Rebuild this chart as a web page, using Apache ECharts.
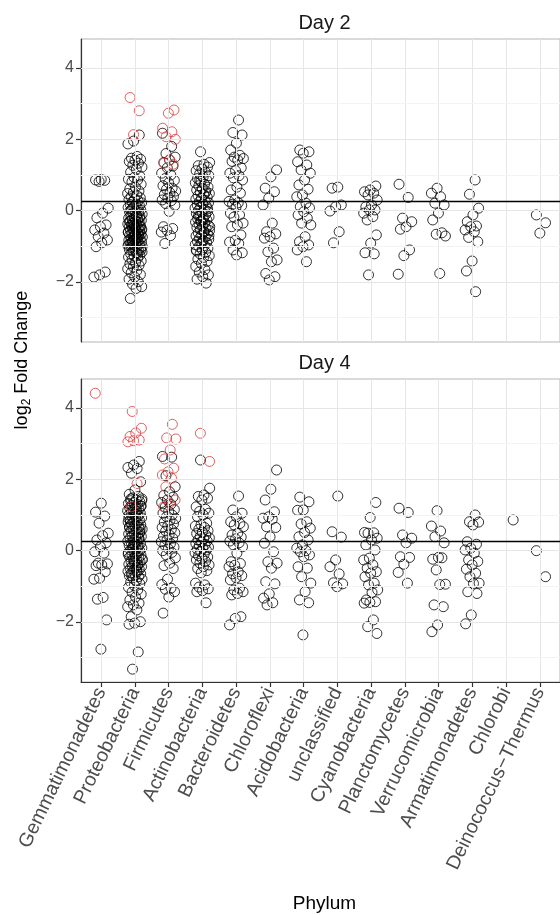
<!DOCTYPE html>
<html>
<head>
<meta charset="utf-8">
<script src="https://cdn.jsdelivr.net/npm/echarts@6/dist/echarts.min.js"></script>
<style>
  html, body { margin: 0; padding: 0; background: #fff; }
  #chart { width: 560px; height: 915px; }
</style>
</head>
<body>
<div id="chart"></div>
<script>
// ---------------- DATA ----------------
const categories = ['Gemmatimonadetes', 'Proteobacteria', 'Firmicutes', 'Actinobacteria',
  'Bacteroidetes', 'Chloroflexi', 'Acidobacteria', 'unclassified', 'Cyanobacteria',
  'Planctomycetes', 'Verrucomicrobia', 'Armatimonadetes', 'Chlorobi', 'Deinococcus\u2212Thermus'];

const panels = ['Day 2', 'Day 4'];
const yTicks = [-2, 0, 2, 4];
const hlineValue = 0.25;

// Day 2 — non-significant (black) log2 fold changes per phylum
const day2Black = [
  [0.87, 0.86, 0.85, 0.82, 0.07, -0.07, -0.2, -0.4, -0.45, -0.54, -0.63, -0.73, -0.82, -0.9, -1.01, -1.72, -1.8, -1.86],
  [2.12, 1.95, 1.87, 1.52, 1.47, 1.44, 1.41, 1.38, 1.33, 1.27, 1.22, 1.16, 1.08, 0.97, 0.93, 0.88, 0.86, 0.81, 0.74, 0.66,
   0.61, 0.55, 0.51, 0.48, 0.43, 0.39, 0.36, 0.33, 0.31, 0.27, 0.24, 0.22, 0.19, 0.17, 0.14, 0.11, 0.09, 0.07, 0.04, 0.02,
   -0.01, -0.03, -0.06, -0.08, -0.1, -0.12, -0.14, -0.16, -0.19, -0.21, -0.23, -0.25, -0.27, -0.29, -0.31, -0.33, -0.35,
   -0.37, -0.39, -0.41, -0.43, -0.45, -0.46, -0.48, -0.5, -0.52, -0.54, -0.55, -0.57, -0.59, -0.61, -0.62, -0.64, -0.66,
   -0.68, -0.69, -0.71, -0.73, -0.74, -0.76, -0.78, -0.8, -0.81, -0.83, -0.85, -0.87, -0.88, -0.9, -0.92, -0.94, -0.96,
   -0.98, -1.0, -1.02, -1.04, -1.06, -1.09, -1.11, -1.13, -1.16, -1.18, -1.21, -1.24, -1.27, -1.3, -1.33, -1.37, -1.41,
   -1.45, -1.49, -1.53, -1.58, -1.63, -1.68, -1.74, -1.79, -1.86, -1.92, -1.99, -2.06, -2.13, -2.18, -2.46,
   -0.2, -0.4, -0.6, -0.75, -0.9, -1.1, -0.5, -0.3, -0.65, -0.85, -1.0, -0.15, 0.0, -0.45, -0.7, -0.95, -1.2, -0.35, -0.55, -0.8],
  [2.17, 1.8, 1.6, 1.5, 1.42, 1.35, 1.25, 1.2, 1.05, 1.0, 0.9, 0.85, 0.78, 0.7, 0.63, 0.6, 0.55, 0.5, 0.45, 0.4, 0.35, 0.3,
   0.28, 0.2, 0.15, -0.02, -0.45, -0.5, -0.55, -0.6, -0.7, -0.92],
  [1.65, 1.35, 1.3, 1.26, 1.22, 1.17, 1.12, 1.08, 1.03, 0.98, 0.95, 0.9, 0.86, 0.82, 0.78, 0.74, 0.7, 0.66, 0.62, 0.58,
   0.55, 0.52, 0.48, 0.45, 0.42, 0.38, 0.35, 0.32, 0.28, 0.25, 0.22, 0.19, 0.16, 0.13, 0.1, 0.07, 0.04, 0.01, -0.02, -0.05,
   -0.08, -0.11, -0.14, -0.17, -0.2, -0.23, -0.26, -0.29, -0.32, -0.35, -0.38, -0.41, -0.44, -0.47, -0.5, -0.53, -0.56,
   -0.59, -0.62, -0.65, -0.68, -0.71, -0.74, -0.77, -0.8, -0.83, -0.86, -0.89, -0.92, -0.95, -0.98, -1.01, -1.05, -1.09,
   -1.13, -1.17, -1.21, -1.26, -1.31, -1.36, -1.42, -1.48, -1.56, -1.65, -1.72, -1.8, -1.85, -1.92, -2.03,
   -0.3, -0.45, -0.6, -0.15, 0.05, -0.9, -1.1, 0.5, 0.85, -0.7, -0.25],
  [2.54, 2.19, 2.12, 1.89, 1.7, 1.55, 1.5, 1.46, 1.42, 1.38, 1.2, 1.12, 1.05, 0.98, 0.92, 0.86, 0.66, 0.58, 0.49, 0.3,
   0.26, 0.22, 0.18, 0.14, 0.1, -0.07, -0.12, -0.18, -0.35, -0.4, -0.45, -0.68, -0.83, -0.88, -0.92, -1.1, -1.18, -1.24],
  [1.14, 0.95, 0.63, 0.53, 0.35, 0.16, -0.35, -0.59, -0.65, -0.73, -0.77, -1.05, -1.15, -1.38, -1.43, -1.76, -1.85, -1.94],
  [1.7, 1.65, 1.61, 1.37, 1.28, 1.14, 1.05, 0.86, 0.72, 0.6, 0.44, 0.39, 0.21, 0.11, 0.08, -0.03, -0.12, -0.21, -0.35,
   -0.4, -0.73, -0.87, -0.96, -1.01, -1.1, -1.43],
  [0.66, 0.63, 0.16, 0.11, -0.01, -0.59, -0.9],
  [0.69, 0.58, 0.53, 0.49, 0.44, 0.3, 0.16, 0.11, 0.02, 0.02, -0.07, -0.17, -0.26, -0.68, -0.91, -1.18, -1.21, -1.8],
  [0.74, 0.37, -0.21, -0.31, -0.45, -0.52, -1.1, -1.26, -1.78],
  [0.63, 0.49, 0.39, 0.21, 0.16, -0.07, -0.26, -0.62, -0.66, -0.71, -1.76],
  [0.86, 0.46, 0.07, -0.12, -0.31, -0.43, -0.45, -0.54, -0.59, -0.75, -0.87, -1.41, -1.69, -2.27],
  [],
  [-0.12, -0.34, -0.63]
];

// Day 2 — significant (red) log2 fold changes per phylum
const day2Red = [
  [], [3.17, 2.8, 2.13], [2.82, 2.73, 2.31, 2.21, 2.07, 2.0, 1.42, 1.33, 1.3],
  [], [], [], [], [], [], [], [], [], [], []
];

// Day 4 — non-significant (black)
const day4Black = [
  [1.33, 1.08, 0.97, 0.77, 0.49, 0.42, 0.3, 0.22, 0.11, -0.03, -0.07, -0.35, -0.37, -0.4, -0.42, -0.59, -0.77, -0.8,
   -1.31, -1.36, -1.94, -2.76],
  [2.5, 2.4, 2.33, 2.3, 2.17, 1.93, 1.7, 1.58, 1.52, 1.48, 1.45, 1.42, 1.4, 1.37, 1.35, 1.32, 1.3, 1.27, 1.25, 1.22, 1.2,
   1.17, 1.15, 1.12, 1.1, 1.07, 1.05, 1.02, 1.0, 0.97, 0.95, 0.92, 0.9, 0.87, 0.85, 0.82, 0.8, 0.77, 0.75, 0.72, 0.7,
   0.67, 0.65, 0.62, 0.6, 0.57, 0.55, 0.52, 0.5, 0.47, 0.45, 0.42, 0.4, 0.37, 0.35, 0.32, 0.3, 0.27, 0.25, 0.22, 0.2,
   0.17, 0.15, 0.12, 0.1, 0.07, 0.05, 0.02, 0.0, -0.03, -0.05, -0.08, -0.1, -0.13, -0.15, -0.18, -0.2, -0.23, -0.25,
   -0.28, -0.3, -0.33, -0.35, -0.38, -0.4, -0.43, -0.45, -0.48, -0.5, -0.53, -0.55, -0.58, -0.6, -0.63, -0.65, -0.68,
   -0.7, -0.73, -0.76, -0.8, -0.84, -0.88, -0.93, -0.98, -1.03, -1.1, -1.16, -1.22, -1.3, -1.38, -1.47, -1.52, -1.57,
   -1.66, -1.85, -1.99, -2.03, -2.06, -2.84, -3.32,
   1.4, 1.1, 0.8, 0.5, 0.2, -0.1, -0.4, -0.7, 1.25, 0.95, 0.65, 0.35, 0.05, -0.25, -0.55, 1.45, 0.6, -0.3, 0.9, 0.1],
  [2.64, 2.62, 2.1, 1.79, 1.65, 1.55, 1.5, 1.42, 1.35, 1.3, 1.22, 1.15, 1.1, 1.05, 1.0, 0.95, 0.9, 0.85, 0.8, 0.75, 0.7,
   0.65, 0.6, 0.55, 0.5, 0.45, 0.4, 0.35, 0.3, 0.25, 0.2, 0.15, 0.1, 0.05, 0.0, -0.05, -0.12, -0.2, -0.35, -0.42, -0.5,
   -0.8, -0.95, -1.05, -1.08, -1.15, -1.3, -1.75],
  [2.54, 1.75, 1.56, 1.52, 1.47, 1.42, 1.23, 1.16, 1.1, 1.05, 1.0, 0.95, 0.77, 0.73, 0.69, 0.65, 0.6, 0.56, 0.52, 0.48,
   0.44, 0.4, 0.36, 0.33, 0.3, 0.27, 0.24, 0.2, 0.17, 0.14, 0.1, 0.07, 0.04, 0.02, -0.02, -0.06, -0.1, -0.14, -0.18,
   -0.22, -0.26, -0.3, -0.35, -0.4, -0.45, -0.5, -0.56, -0.62, -0.91, -0.96, -1.02, -1.07, -1.12, -1.15, -1.46],
  [1.53, 1.14, 1.05, 0.95, 0.81, 0.76, 0.72, 0.67, 0.49, 0.44, 0.38, 0.33, 0.27, 0.22, 0.16, 0.11, -0.07, -0.31, -0.36,
   -0.41, -0.45, -0.59, -0.65, -0.7, -0.76, -0.82, -1.05, -1.1, -1.15, -1.2, -1.24, -1.85, -1.9, -2.08],
  [2.26, 1.72, 1.42, 1.09, 0.95, 0.91, 0.88, 0.67, 0.65, 0.39, 0.21, -0.03, -0.31, -0.35, -0.49, -0.87, -0.93, -1.21,
   -1.33, -1.46, -1.52],
  [1.5, 1.37, 1.14, 1.13, 0.81, 0.75, 0.63, 0.51, 0.39, 0.3, 0.16, 0.07, 0.0, -0.03, -0.12, -0.17, -0.45, -0.49, -0.73,
   -0.91, -1.15, -1.38, -1.46, -2.36],
  [1.53, 0.53, 0.38, -0.26, -0.45, -0.65, -0.9, -0.93, -1.01],
  [1.35, 0.93, 0.51, 0.5, 0.49, 0.35, 0.3, 0.16, 0.02, -0.21, -0.26, -0.4, -0.49, -0.59, -0.63, -0.73, -0.91, -0.96,
   -1.1, -1.17, -1.38, -1.43, -1.45, -1.47, -1.94, -2.13, -2.32],
  [1.19, 1.07, 0.44, 0.35, 0.22, -0.17, -0.19, -0.38, -0.61, -0.91],
  [1.12, 0.69, 0.55, 0.39, 0.22, -0.19, -0.24, -0.2, -0.54, -0.94, -0.95, -1.52, -1.57, -2.08, -2.27],
  [1.0, 0.81, 0.8, 0.72, 0.25, 0.18, 0.07, 0.02, -0.07, -0.26, -0.3, -0.4, -0.52, -0.63, -0.73, -0.91, -0.92, -1.15,
   -1.2, -1.8, -2.05],
  [0.86],
  [0.0, -0.73]
];

// Day 4 — significant (red)
const day4Red = [
  [4.41], [3.9, 3.43, 3.3, 3.2, 3.1, 3.08, 3.05, 1.88, 1.23],
  [3.54, 3.16, 3.13, 2.82, 2.57, 2.31, 2.21, 2.12, 2.03, 1.79, 1.42, 1.33, 1.23],
  [3.29, 2.5], [], [], [], [], [], [], [], [], [], []
];

// ---------------- LAYOUT / STYLE ----------------
const FONT = '"Liberation Sans", Arial, Helvetica, sans-serif';
const yMin = -3.68, yMax = 4.81;
const xMin = -0.6, xMax = categories.length - 1 + 0.6;
const gridLeft = 81, gridWidth = 487, gridHeight = 303;
const gridTops = [39, 379];

function jitter(k, c) {
  const f = (0.5 + k * 0.6180339887 + c * 0.29) % 1;
  return (f - 0.5) * 0.44;
}

function buildPoints(blackArr, redArr) {
  const black = [], red = [];
  categories.forEach((name, c) => {
    let k = 0;
    (blackArr[c] || []).forEach(v => { black.push([c + jitter(k++, c), v]); });
    (redArr[c] || []).forEach(v => { red.push([c + jitter(k++, c), v]); });
  });
  return { black, red };
}

const tickIdx = categories.map((_, i) => i);
const minorY = [-3, -1, 1, 3];

const grids = [], xAxes = [], yAxes = [], series = [];
const panelData = [buildPoints(day2Black, day2Red), buildPoints(day4Black, day4Red)];

panels.forEach((p, pi) => {
  grids.push({
    left: gridLeft, top: gridTops[pi], width: gridWidth, height: gridHeight,
    show: true, borderColor: '#b5b5b5', borderWidth: 1, backgroundColor: '#fff'
  });
  const isBottom = pi === panels.length - 1;
  xAxes.push({
    type: 'value', gridIndex: pi, min: xMin, max: xMax,
    splitLine: { show: false },
    axisLine: { show: isBottom, onZero: false, lineStyle: { color: '#333', width: 1 } },
    axisTick: { show: isBottom, customValues: tickIdx, length: 5, lineStyle: { color: '#333', width: 1.2 } },
    axisLabel: {
      show: isBottom, customValues: tickIdx, rotate: 64, margin: 7,
      formatter: v => categories[Math.round(v)] || '',
      color: '#4d4d4d', fontFamily: FONT, fontSize: 19.5
    }
  });
  yAxes.push({
    type: 'value', gridIndex: pi, min: yMin, max: yMax,
    splitLine: { show: false },
    axisLine: { show: true, onZero: false, lineStyle: { color: '#333', width: 1.2 } },
    axisTick: { show: true, customValues: yTicks, length: 5, lineStyle: { color: '#333', width: 1.2 } },
    axisLabel: {
      customValues: yTicks, margin: 7,
      formatter: v => (v < 0 ? '\u2212' + Math.abs(v) : String(v)),
      color: '#4d4d4d', fontFamily: FONT, fontSize: 16
    }
  });
  const gl = [];
  tickIdx.forEach(i => gl.push({ xAxis: i, lineStyle: { color: '#e6e6e6', width: 1, type: 'solid' } }));
  minorY.forEach(v => gl.push({ yAxis: v, lineStyle: { color: '#f3f3f3', width: 1, type: 'solid' } }));
  yTicks.forEach(v => gl.push({ yAxis: v, lineStyle: { color: '#e6e6e6', width: 1, type: 'solid' } }));
  series.push({
    type: 'scatter', xAxisIndex: pi, yAxisIndex: pi, data: [], silent: true, z: 1,
    markLine: { silent: true, symbol: ['none', 'none'], label: { show: false }, animation: false, data: gl }
  });
  series.push({
    type: 'scatter', xAxisIndex: pi, yAxisIndex: pi, data: panelData[pi].black, z: 3,
    symbol: 'circle', symbolSize: 10, clip: true,
    itemStyle: { color: 'rgba(0,0,0,0)', borderColor: '#000', borderWidth: 1 }
  });
  series.push({
    type: 'scatter', xAxisIndex: pi, yAxisIndex: pi, data: panelData[pi].red, z: 4,
    symbol: 'circle', symbolSize: 10, clip: true,
    itemStyle: { color: 'rgba(0,0,0,0)', borderColor: '#d93a3a', borderWidth: 1 }
  });
  series.push({
    type: 'scatter', xAxisIndex: pi, yAxisIndex: pi, data: [], silent: true, z: 5,
    markLine: {
      silent: true, symbol: ['none', 'none'], label: { show: false }, animation: false,
      data: [{ yAxis: hlineValue, lineStyle: { color: '#000', width: 1.4, type: 'solid' } }]
    }
  });
});

const stripCenterX = gridLeft + gridWidth / 2;
const graphics = panels.map((p, pi) => ({
  type: 'text', x: stripCenterX, y: gridTops[pi] - 16,
  style: { text: p, fontFamily: FONT, fontSize: 20, fill: '#1a1a1a', align: 'center', verticalAlign: 'middle' }
}));
graphics.push({
  type: 'text', x: stripCenterX, y: 904,
  style: { text: 'Phylum', fontFamily: FONT, fontSize: 19, fill: '#000', align: 'center', verticalAlign: 'middle' }
});
graphics.push({
  type: 'text', x: 22, y: 360, rotation: Math.PI / 2,
  style: {
    text: '{a|log}{s|2}{a| Fold Change}', align: 'center', verticalAlign: 'middle', fill: '#000',
    rich: {
      a: { fontFamily: FONT, fontSize: 18, lineHeight: 22, verticalAlign: 'middle', fill: '#000' },
      s: { fontFamily: FONT, fontSize: 12, lineHeight: 12, verticalAlign: 'bottom', fill: '#000' }
    }
  }
});

const chart = echarts.init(document.getElementById('chart'), null, { renderer: 'canvas' });
chart.setOption({
  animation: false,
  backgroundColor: '#fff',
  grid: grids,
  xAxis: xAxes,
  yAxis: yAxes,
  series: series,
  graphic: graphics
});
</script>
</body>
</html>
